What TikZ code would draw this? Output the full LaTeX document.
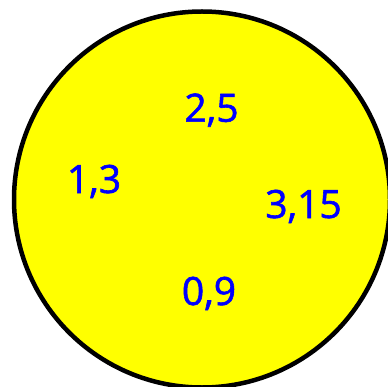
\documentclass[tikz,border=0pt]{standalone}
\usepackage{fontspec}
\setmainfont{Open Sans}
\newfontfamily\numfont{Open Sans}[FakeBold=1.5]
\definecolor{disk}{RGB}{255,255,0}
\definecolor{numblue}{RGB}{0,0,255}
\tikzset{
  disk/.style={draw=black, fill=disk, line width=4.5pt},
  num/.style={text=numblue, font=\numfont\fontsize{39}{39}\selectfont, anchor=base, inner sep=0pt}
}
\begin{document}
\begin{tikzpicture}[x=1pt,y=-1pt]
\useasboundingbox (0,0) rectangle (387,387);
\node[disk, circle, minimum size=376pt, inner sep=0pt] (c) at (202,199.5) {};
\node[num] (a) at (211.5,121.7) {2,5};
\node[num] (b) at (94,193) {1,3};
\node[num] (d) at (303.5,218) {3,15};
\node[num] (e) at (209,305) {0,9};
\end{tikzpicture}
\end{document}
